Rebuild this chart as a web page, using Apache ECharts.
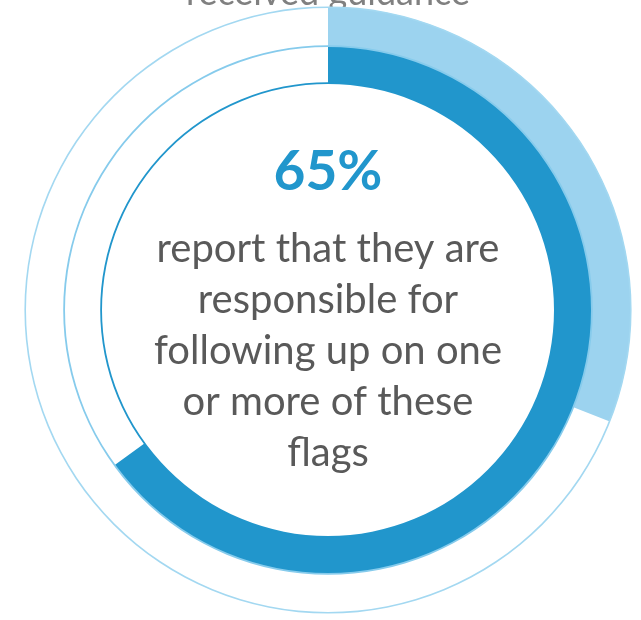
<!DOCTYPE html>
<html>
<head>
<meta charset="utf-8">
<style>
  html, body { margin: 0; padding: 0; background: #ffffff; }
  #chart { width: 641px; height: 620px; }
</style>
<script src="https://cdn.jsdelivr.net/npm/echarts@6/dist/echarts.min.js"></script>
</head>
<body>
<div id="chart"></div>
<script>
// Share of respondents (percent)
const guidanceShare = 31;      // outer ring: received guidance
const followUpShare = 65;      // inner ring: responsible for follow-up
const headline = '65%';
const bodyLines = ['report that they are', 'responsible for', 'following up on one', 'or more of these', 'flags'];
const topCaption = 'received guidance';

const DARK = '#2196cc';
const LIGHT = '#9cd3ef';
const FONT = 'Lato, "Open Sans", sans-serif';
const CENTER = [328, 310];

// A full thin ring drawn as a one-slice pie
function ring(inner, outer, color) {
  return {
    type: 'pie', center: CENTER, radius: [inner, outer], silent: true,
    label: { show: false }, labelLine: { show: false }, animation: false,
    itemStyle: { color: color, borderWidth: 0 },
    data: [{ value: 1 }]
  };
}

// A share arc starting at 12 o'clock, running clockwise
function arc(inner, outer, share, color) {
  return {
    type: 'pie', center: CENTER, radius: [inner, outer], silent: true,
    startAngle: 90, clockwise: true, animation: false,
    label: { show: false }, labelLine: { show: false },
    itemStyle: { borderWidth: 0 },
    data: [
      { value: share, itemStyle: { color: color } },
      { value: 100 - share, itemStyle: { color: 'rgba(0,0,0,0)' } }
    ]
  };
}

const chart = echarts.init(document.getElementById('chart'), null, { renderer: 'canvas' });
chart.setOption({
  backgroundColor: '#ffffff',
  series: [
    arc(264, 303, guidanceShare, LIGHT),
    arc(227, 264, followUpShare, DARK),
    ring(302, 303.6, '#a3d8f1'),
    ring(263, 264.8, '#86cbec'),
    ring(226, 227.8, DARK)
  ],
  graphic: [
    {
      type: 'text', x: 328, y: -7, silent: true,
      style: { text: topCaption, font: '36px ' + FONT, fill: '#808080', align: 'center', verticalAlign: 'middle' }
    },
    {
      type: 'text', x: 328, y: 172, silent: true,
      style: { text: headline, font: 'bold 55px ' + FONT, fill: DARK, align: 'center', verticalAlign: 'middle' }
    },
    {
      type: 'text', x: 328, y: 351, silent: true,
      style: { text: bodyLines.join('\n'), font: '40px ' + FONT, lineHeight: 51, fill: '#595959', align: 'center', verticalAlign: 'middle' }
    }
  ]
});
</script>
</body>
</html>
